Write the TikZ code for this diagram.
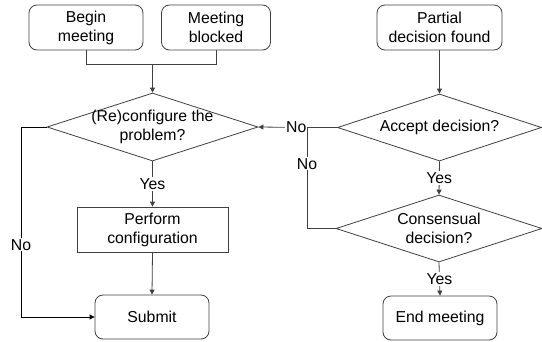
\documentclass[tikz,border=0pt]{standalone}
\usepackage{fontspec}
\setmainfont{Liberation Sans}
\usetikzlibrary{shapes.geometric,arrows.meta}
\begin{document}
\begin{tikzpicture}[x=1pt,y=-1pt,
  font=\fontsize{15.8}{19}\selectfont,
  line/.style={draw=black!75, line width=0.8pt},
  arr/.style={line, -{Triangle[length=5pt,width=5pt]}},
  rbox/.style={draw=black!75, line width=0.8pt, rounded corners=8pt, align=center, inner sep=0pt},
  sbox/.style={draw=black!75, line width=0.8pt, align=center, inner sep=0pt},
  dia/.style={draw=black!75, line width=0.8pt, diamond, inner sep=0pt},
  txt/.style={align=center, inner sep=0pt},
  lab/.style={fill=white, inner sep=1pt}]
\useasboundingbox (0,0) rectangle (542,341);
% top boxes
\node[rbox, minimum width=114pt, minimum height=45pt] (begin) at (86,27.5) {Begin\\meeting};
\node[rbox, minimum width=109pt, minimum height=45pt] (blocked) at (216,27.5) {Meeting\\blocked};
\node[rbox, minimum width=125pt, minimum height=45pt] (partial) at (439.5,27.5) {Partial\\decision found};
% diamonds
\node[dia, minimum width=211pt, minimum height=68pt] (d1) at (152.5,127) {};
\node[txt] (d1t) at (152.5,127) {(Re)configure the\\problem?};
\node[dia, minimum width=204pt, minimum height=67pt] (d2) at (439.5,127.5) {};
\node[txt] (d2t) at (439.5,127.5) {Accept decision?};
\node[dia, minimum width=206pt, minimum height=67pt] (d3) at (439,228.5) {};
\node[txt] (d3t) at (439,228.5) {Consensual\\decision?};
% lower boxes
\node[sbox, minimum width=151pt, minimum height=45pt] (perf) at (152.5,229.5) {Perform\\configuration};
\node[rbox, minimum width=114pt, minimum height=44pt] (sub) at (152,317) {Submit};
\node[rbox, minimum width=114pt, minimum height=44pt] (endm) at (440,318) {End meeting};
% connectors
\coordinate (join) at (152.5,64);
\draw[line] (begin.south) |- (join);
\draw[line] (blocked.south) |- (join);
\draw[arr] (join) -- (d1.north);
\draw[arr] (d1.south) -- node[lab] (y1) {Yes} (perf.north);
\draw[arr] (perf.south) -- (sub.north);
\coordinate (cL) at (21,127);
\draw[line, draw=black] (d1.west) -- (cL) -- node[lab, pos=0.62] (n1) {No} (cL |- sub.west);
\draw[arr, draw=black] (cL |- sub.west) -- (sub.west);
\draw[arr] (partial.south) -- (d2.north);
\coordinate (cR) at (307,127.5);
\draw[arr] (d2.west) -- (cR) -- node[lab, pos=0.22] (n2) {No} (d1.east);
\coordinate (cR2) at (307,228.5);
\draw[line] (d3.west) -- (cR2) -- node[lab, pos=0.64] (n3) {No} (cR);
\draw[arr] (d2.south) -- node[lab] (y2) {Yes} (d3.north);
\draw[arr] (d3.south) -- node[lab] (y3) {Yes} (endm.north);
\end{tikzpicture}
\end{document}
